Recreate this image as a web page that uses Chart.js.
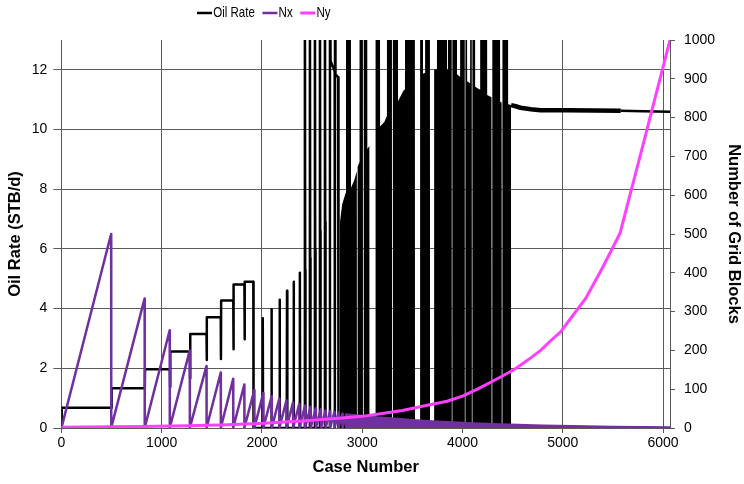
<!DOCTYPE html>
<html>
<head>
<meta charset="utf-8">
<script src="https://cdn.jsdelivr.net/npm/chart.js@4.4.1/dist/chart.umd.min.js"></script>
<style>
  html, body { margin: 0; padding: 0; background: #ffffff; }
  canvas { display: block; }
</style>
</head>
<body>
<canvas id="chart" width="744" height="484"></canvas>
<script>
// Axis tick labels
const caseTicks = [0, 1000, 2000, 3000, 4000, 5000, 6000];
const rateTicks = [0, 2, 4, 6, 8, 10, 12];
const blockTicks = [0, 100, 200, 300, 400, 500, 600, 700, 800, 900, 1000];

// Oil rate, coarse grids: one level per Ny block, with the dip at the first case of each block
const stairCase = [0, 3, 499, 501, 832, 834, 1082, 1084, 1086, 1281, 1283, 1285, 1447, 1449, 1451,
  1589, 1591, 1593, 1714, 1716, 1718, 1825, 1827, 1829, 1914, 1916];
const stairRate = [0, 0.68, 0.68, 1.33, 1.33, 1.97, 1.97, 1.38, 2.56, 2.56, 1.66, 3.15, 3.15, 2.28, 3.71,
  3.71, 2.31, 4.27, 4.27, 2.64, 4.81, 4.81, 2.97, 4.90, 4.90, 0];

// Oil rate, single-case pulses and off-scale surges at the block ends
const pulseCase = [2005, 2008, 2011, 2092, 2095, 2098, 2173, 2176, 2179, 2247, 2250, 2253, 2313, 2316, 2319,
  2375, 2378, 2381, 2425, 2428, 2431, 2434, 2475, 2478, 2481, 2484, 2525, 2528, 2531, 2534, 2575, 2578,
  2581, 2584, 2625, 2628, 2631, 2634, 2675, 2678, 2684, 2725, 2727, 2729, 2733, 2760, 2763];
const pulseRate = [0, 3.68, 0, 0, 3.98, 0, 0, 4.30, 0, 0, 4.60, 0, 0, 4.90, 0,
  0, 5.20, 0, 0, 16, 5.3, 0, 0, 16, 5.7, 0, 0, 16, 6.0, 0, 0, 16,
  6.6, 0, 0, 16, 6.9, 0, 0, 16, 12.3, 11.95, 0, 16, 11.85, 11.75, 0];

// Oil rate, unstable range: the rate swings between zero, the settled rate and off-scale values
const denseCase = [2775, 2778, 2800, 2837, 2838, 2887, 2888, 2920, 2946, 2947, 2953, 2954, 2972, 2973, 3005,
  3006, 3014, 3015, 3050, 3051, 3071, 3072, 3132, 3133, 3177, 3178, 3220, 3246, 3247, 3296,
  3297, 3305, 3306, 3356, 3357, 3410, 3426, 3427, 3525, 3526, 3576, 3577, 3605, 3606, 3626,
  3627, 3675, 3676, 3716, 3717, 3745, 3746, 3845, 3846, 3855, 3856, 3892, 3893, 3898, 3899,
  3944, 3945, 3975, 3976, 4022, 4023, 4028, 4029, 4045, 4046, 4075, 4076, 4092, 4093, 4098,
  4099, 4125, 4126, 4175, 4176, 4245, 4246, 4289, 4290, 4296, 4297, 4374, 4375, 4390, 4391,
  4397, 4398, 4454, 4455, 4484];
const denseRate = [0, 6.9, 7.5, 7.9, 16, 16, 8.05, 8.3, 8.6, 0, 0, 8.75, 8.9, 16, 16,
  0, 0, 16, 16, 9.35, 9.45, 0, 0, 16, 16, 10.1, 10.25, 10.45, 16, 16,
  0, 0, 16, 16, 10.95, 11.3, 11.35, 16, 16, 0, 0, 16, 16, 11.87, 11.9,
  16, 16, 0, 0, 12.0, 12.03, 16, 16, 12.02, 12.0, 16, 16, 0, 0, 16,
  16, 11.85, 11.77, 16, 16, 0, 0, 16, 16, 11.62, 11.55, 16, 16, 0, 0,
  16, 16, 11.43, 11.33, 16, 16, 11.16, 11.08, 0, 0, 16, 16, 10.93, 10.91, 0,
  0, 16, 16, 10.85, 10.82];

// Oil rate, fine grids: settled rate
const tailCase = [4530, 4579, 4680, 4779, 5046, 5300, 5578, 5800, 6069];
const tailRate = [10.78, 10.73, 10.68, 10.65, 10.65, 10.64, 10.63, 10.61, 10.60];

// Nx: each block ramps Nx from 1 up to its peak
const toothEnd = [496, 830, 1080, 1280, 1447, 1589, 1713, 1824, 1924, 2013, 2097, 2173, 2244, 2310, 2372,
  2430, 2485, 2537, 2587, 2634, 2679, 2722, 2763, 2803, 2841];
const toothPeak = [500, 334, 252, 200, 160, 143, 127, 112, 98, 90, 82, 76, 71, 66, 62,
  58, 55, 51, 48, 45, 43, 41, 39, 37, 35];
// Nx: later blocks are too short to separate, drawn as the band under their peaks
const nxBandCase = [2842, 2846, 3000, 3150, 3350, 3500, 3700, 3850, 4050, 4300, 4550, 4800, 5100, 5500, 5800, 6069];
const nxBandTop = [1, 34, 31, 27, 23, 20, 17, 15, 12, 9.5, 7.5, 5.8, 4.2, 2.8, 2, 1];

// Ny per case
const nyCase = [0, 500, 833, 1083, 1283, 1449, 1591, 1716, 1827, 1927, 2017, 2183, 2400, 2600, 2800, 3000,
  3181, 3400, 3600, 3847, 4000, 4150, 4347, 4513, 4650, 4779, 4900, 4978, 5100, 5228, 5400, 5571, 5800, 6069];
const nyBlocks = [2, 3, 4, 5, 6, 7, 8, 9, 10, 11, 12, 15, 18, 22, 26, 30,
  37, 45, 56, 69, 82, 100, 127, 150, 175, 200, 230, 248, 290, 334, 415, 502, 730, 1000];

const pts = (xs, ys) => xs.map((x, i) => ({ x, y: ys[i] }));

const oilPoints = [].concat(
  pts(stairCase, stairRate),
  pts(pulseCase, pulseRate),
  pts(denseCase, denseRate),
  pts(tailCase, tailRate)
);

const nxPoints = [];
let blockStart = 1;
toothEnd.forEach((end, i) => {
  nxPoints.push({ x: blockStart, y: 1 }, { x: end, y: toothPeak[i] });
  blockStart = end + 1;
});
nxPoints.push(...pts(nxBandCase, nxBandTop));

const nyPoints = pts(nyCase, nyBlocks);

const denseFrom = denseCase[0];
const denseTo = denseCase[denseCase.length - 1];
const noisyTo = 5578;
const segX = (s, data) => [data[s.p0DataIndex].x, data[s.p1DataIndex].x];
const inDense = s => { const [a, b] = segX(s, oilPoints); return a >= denseFrom && b <= denseTo; };
const inNoisy = s => { const [a, b] = segX(s, oilPoints); return a >= denseTo && b <= noisyTo; };

const BLACK = '#000000';
const PURPLE = '#7030a0';
const MAGENTA = '#ff40ff';
const GRID = '#5a5a5a';
const plain = v => String(v);

Chart.defaults.font.family = "'Liberation Sans', Arial, sans-serif";
Chart.defaults.color = '#000000';

// Legend strip: fixed height, narrow lettering, placed from its left anchor
const LEGEND_ANCHOR = 197;
const LEGEND_SQUEEZE = 0.77;
const LEGEND_SHIFT = 187.2;
const legendStrip = {
  id: 'legendStrip',
  afterInit(chart) {
    const legend = chart.legend;
    const fit = legend.fit;
    legend.fit = function () { fit.call(this); this.height = 50.3; };
    const draw = legend.draw;
    legend.draw = function () {
      const ctx = this.ctx;
      ctx.save();
      ctx.translate(LEGEND_ANCHOR, 0);
      ctx.scale(LEGEND_SQUEEZE, 1);
      ctx.translate(LEGEND_SHIFT - LEGEND_ANCHOR, 0);
      draw.call(this);
      ctx.restore();
    };
  }
};

new Chart(document.getElementById('chart'), {
  type: 'line',
  data: {
    datasets: [
      {
        label: 'Oil Rate', data: oilPoints, yAxisID: 'y', order: 3,
        borderColor: BLACK, backgroundColor: 'transparent', borderWidth: 2.5,
        borderJoinStyle: 'round', fill: 'origin',
        segment: {
          backgroundColor: s => inDense(s) ? BLACK : 'transparent',
          borderColor: s => inDense(s) ? 'transparent' : BLACK,
          borderWidth: s => inNoisy(s) ? 4.5 : 2.5
        }
      },
      {
        label: 'Nx', data: nxPoints, yAxisID: 'y1', order: 2,
        borderColor: PURPLE, backgroundColor: 'transparent', borderWidth: 2.5,
        borderJoinStyle: 'round', fill: 'origin',
        segment: {
          backgroundColor: s => nxPoints[s.p0DataIndex].x >= nxBandCase[0] ? PURPLE : 'transparent'
        }
      },
      {
        label: 'Ny', data: nyPoints, yAxisID: 'y1', order: 1,
        borderColor: MAGENTA, backgroundColor: MAGENTA, borderWidth: 3,
        borderJoinStyle: 'round', fill: false
      }
    ]
  },
  options: {
    responsive: false,
    animation: false,
    devicePixelRatio: 1,
    events: [],
    layout: { padding: { top: -10.3, left: 0, right: 0, bottom: 0 } },
    elements: { point: { radius: 0, hoverRadius: 0 }, line: { tension: 0 } },
    plugins: {
      tooltip: { enabled: false },
      legend: {
        position: 'top', align: 'start',
        labels: {
          usePointStyle: true, pointStyle: 'line', boxWidth: 7.5, boxHeight: 13.8,
          padding: 15.8, color: '#000000', font: { size: 15 },
          sort: (a, b) => a.datasetIndex - b.datasetIndex
        }
      }
    },
    scales: {
      x: {
        type: 'linear', min: 0, max: 6069,
        afterBuildTicks: s => { s.ticks = caseTicks.map(v => ({ value: v })); },
        afterFit: s => { s.height = 56; },
        grid: { color: GRID, lineWidth: 1, tickLength: 5 },
        border: { color: GRID, width: 1 },
        ticks: { color: '#000000', font: { size: 14 }, padding: 2, maxRotation: 0, autoSkip: false, callback: plain },
        title: { display: true, text: 'Case Number', color: '#000000',
          font: { size: 16.5, weight: 'bold' }, padding: { top: 0, bottom: 7.1 } }
      },
      y: {
        position: 'left', min: 0, max: 13,
        afterBuildTicks: s => { s.ticks = rateTicks.map(v => ({ value: v })); },
        afterFit: s => { s.width = 61.4; },
        grid: { color: GRID, lineWidth: 1, tickLength: 8 },
        border: { color: GRID, width: 1 },
        ticks: { color: '#000000', font: { size: 14 }, padding: 6, callback: plain },
        title: { display: true, text: 'Oil Rate (STB/d)', color: '#000000',
          font: { size: 16.5, weight: 'bold' }, padding: { top: 5.1, bottom: 0 } }
      },
      y1: {
        position: 'right', min: 0, max: 1000,
        afterBuildTicks: s => { s.ticks = blockTicks.map(v => ({ value: v })); },
        afterFit: s => { s.width = 74; },
        grid: { drawOnChartArea: false, color: GRID, lineWidth: 1, tickLength: 5 },
        border: { color: GRID, width: 1 },
        ticks: { color: '#000000', font: { size: 14 }, padding: 9, callback: plain },
        title: { display: true, text: 'Number of Grid Blocks', color: '#000000',
          font: { size: 16.5, weight: 'bold' }, padding: { top: 0.6, bottom: 0 } }
      }
    }
  },
  plugins: [legendStrip]
});
</script>
</body>
</html>
